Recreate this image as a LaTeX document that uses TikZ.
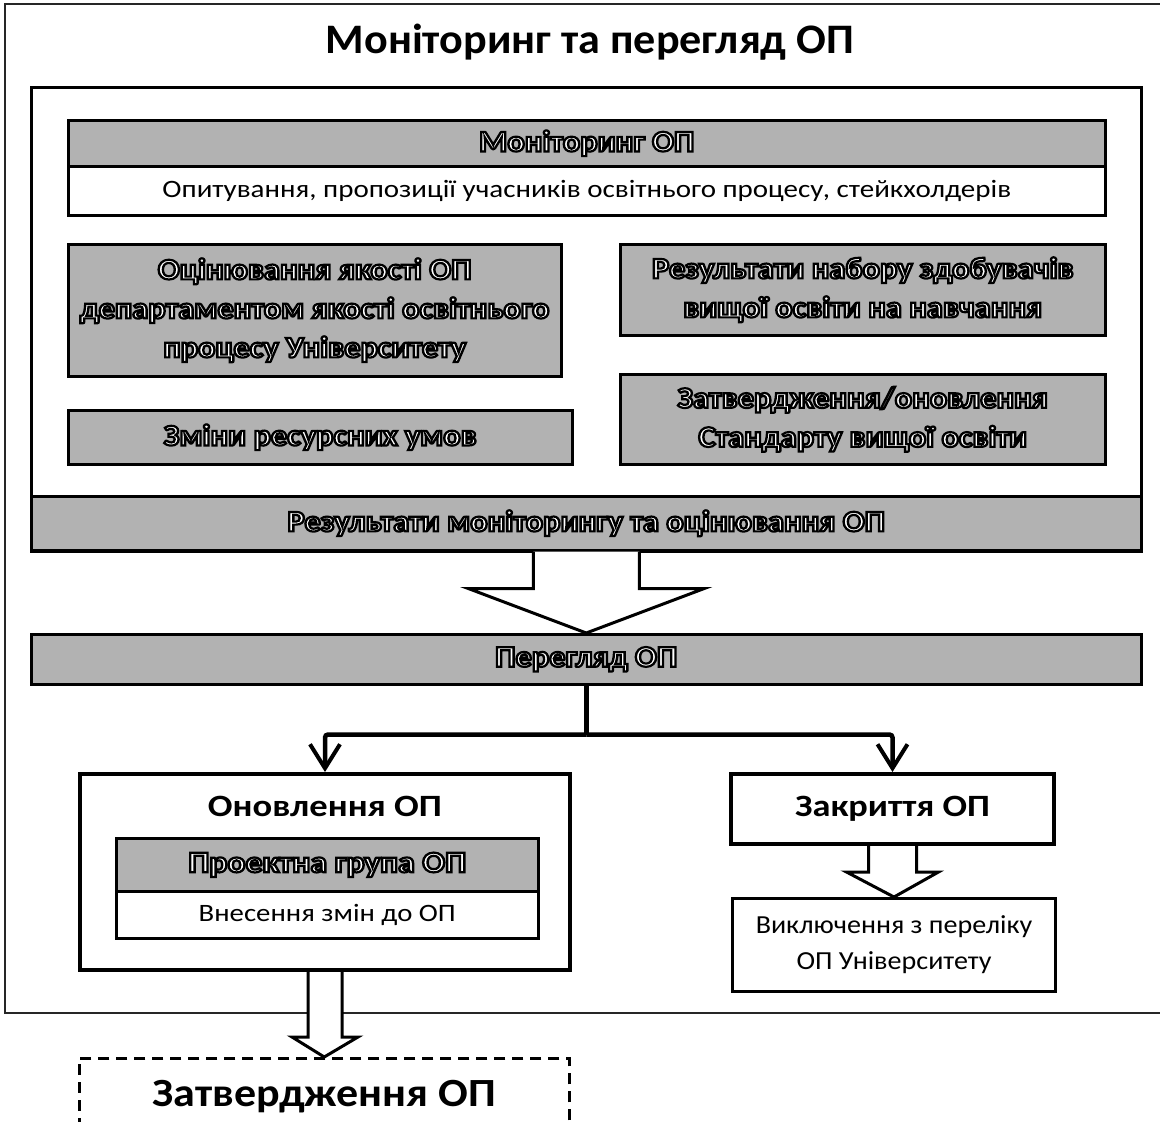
\documentclass[tikz,border=0pt]{standalone}
\usepackage{fontspec}
\setmainfont{Carlito}
\usetikzlibrary{calc,arrows.meta}
\newcommand\olt[2][1.08]{\scalebox{#1}[1]{\special{pdf:literal direct 2 Tr 2.2 w 0 G}#2\special{pdf:literal direct 0 Tr}}}
\newcommand\hs[2]{\scalebox{#1}[1]{#2}}
\begin{document}
\begin{tikzpicture}[x=1pt,y=-1pt,
  sz/.style 2 args={minimum width=#1pt, minimum height=#2pt},
  shbox/.style={draw, line width=2.5pt, fill=black!30, text=white, inner sep=0pt,
    anchor=north west, align=center, font=\fontsize{30}{39}\selectfont\bfseries},
  wbox/.style={draw, line width=2.5pt, fill=white, inner sep=0pt, anchor=north west, align=center},
  thickbox/.style={draw, line width=4pt, fill=white, inner sep=0pt, anchor=north west, align=center,
    font=\fontsize{31}{36}\selectfont\bfseries},
  conn/.style={line width=4.5pt},
  barb/.style={-{Straight Barb[length=24pt,width=30pt,line width=4pt]}},
  blk/.style={draw, line width=3pt, fill=white, line join=miter},
  frame/.style={line width=2.5pt, black!85}]
\clip (0,0) rectangle (1160,1122);
\fill[white] (0,0) rectangle (1160,1122);
% outer frame
\draw[frame] (1160,4) -- (5,4) -- (5,1013) -- (1160,1013);
% title
\node[font=\fontsize{42}{48}\selectfont\bfseries] (title) at (590,42) {\hs{1.05}{Моніторинг та перегляд ОП}};
% container
\node[draw, line width=3pt, inner sep=0pt, anchor=north west, sz={1110}{464}] (cont) at (30,86) {};
% monitoring header
\node[shbox, sz={1037}{46}] (mon) at (67,119) {\olt{Моніторинг ОП}};
\node[wbox, sz={1037}{49}, font=\fontsize{25}{28}\selectfont] (survey) at (67,165) {\hs{1.16}{Опитування, пропозиції учасників освітнього процесу, стейкхолдерів}};
% four shaded boxes
\node[shbox, sz={493}{132}] (qual) at (67,243) {\olt{Оцінювання якості ОП}\\\olt{департаментом якості освітнього}\\\olt{процесу Університету}};
\node[shbox, sz={485}{91}] (enrol) at (619,243) {\olt{Результати набору здобувачів}\\\olt{вищої освіти на навчання}};
\node[shbox, sz={504}{54}] (res2) at (67,409) {\olt{Зміни ресурсних умов}};
\node[shbox, sz={485}{90}] (std) at (619,373) {\olt{Затвердження/оновлення}\\\olt{Стандарту вищої освіти}};
% results band
\node[shbox, sz={1110}{54}] (res) at (30,495) {\olt{Результати моніторингу та оцінювання ОП}};
% review band
\node[shbox, sz={1110}{50}] (per) at (30,633) {\olt{Перегляд ОП}};
% big arrow
\path[blk] ($(res.south)+(-53,0)$) -- ($(res.south)+(-53,37)$) -- ($(res.south)+(-118,37)$)
  -- (per.north) -- ($(res.south)+(118,37)$) -- ($(res.south)+(53,37)$) -- ($(res.south)+(53,0)$);
% update box
\node[thickbox, sz={490}{196}] (upd) at (78,772) {};
\node[font=\fontsize{31}{36}\selectfont\bfseries] (updt) at ($(upd.north)+(0,34)$) {\hs{1.18}{Оновлення ОП}};
\node[shbox, sz={422}{53}] (grp) at (115,837) {\olt[1.12]{Проектна група ОП}};
\node[wbox, sz={422}{47}, font=\fontsize{25}{28}\selectfont] (chg) at (115,890) {\hs{1.15}{Внесення змін до ОП}};
% closing box
\node[thickbox, sz={323}{70}] (cls) at (729,772) {\hs{1.17}{Закриття ОП}};
\node[wbox, line width=3pt, sz={323}{93}, font=\fontsize{26}{36}\selectfont] (exc) at (731,897) {\hs{1.08}{Виключення з переліку}\\\hs{1.08}{ОП Університету}};
% branch connectors
\draw[conn] (per.south) -- ($(per.south)+(0,49)$) coordinate (br);
\draw[conn, barb, rounded corners=3pt] (br) -| (upd.north);
\draw[conn, barb, rounded corners=3pt] (br) -| (cls.north);
% arrow closing -> exclusion
\path[blk] ($(cls.south)+(-24,0)$) -- ($(cls.south)+(-24,26)$) -- ($(cls.south)+(-46,26)$)
  -- (exc.north) -- ($(cls.south)+(46,26)$) -- ($(cls.south)+(24,26)$) -- ($(cls.south)+(24,0)$);
% approval box
\node[draw, dashed, dash pattern=on 11pt off 7pt, line width=2.5pt, inner sep=0pt, anchor=north west,
  sz={490}{76}, font=\fontsize{40}{44}\selectfont\bfseries] (appr) at (78,1057) {\hs{1.1}{Затвердження ОП}};
% arrow update -> approval
\path[blk] ($(upd.south)+(-17,0)$) -- ($(upd.south)+(-17,65)$) -- ($(upd.south)+(-33,65)$)
  -- (appr.north) -- ($(upd.south)+(33,65)$) -- ($(upd.south)+(17,65)$) -- ($(upd.south)+(17,0)$);
\end{tikzpicture}
\end{document}
